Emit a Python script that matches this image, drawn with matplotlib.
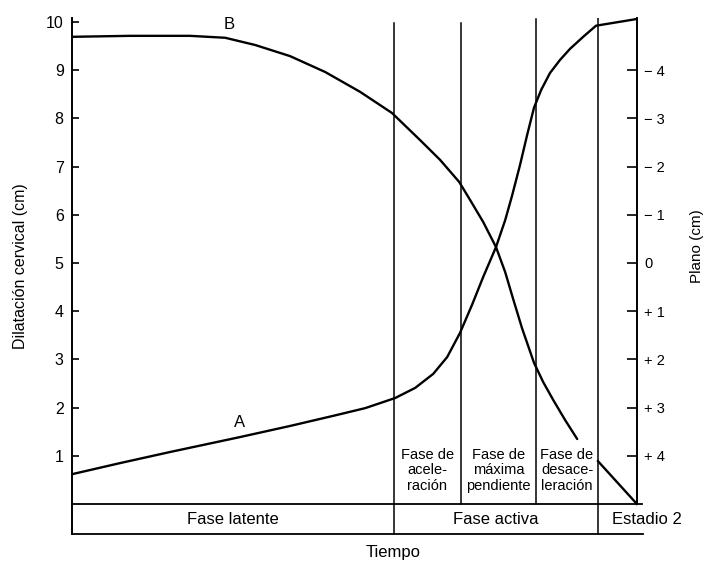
import matplotlib
matplotlib.use("Agg")
import matplotlib.pyplot as plt

plt.rcParams["font.family"] = ["Liberation Sans", "DejaVu Sans"]

# Time (h) and cervical dilatation (cm) for curve A
time_a = [0.0, 1.2, 2.45, 4.2, 5.45, 6.53, 7.33, 8.08, 8.58, 9.03, 9.38,
          9.7, 10.0, 10.28, 10.6, 10.83, 11.0, 11.2, 11.38, 11.55, 11.73,
          11.95, 12.2, 12.45, 12.78, 13.1, 14.125]
dilation_a = [0.62, 0.85, 1.08, 1.39, 1.62, 1.83, 1.99, 2.2, 2.41, 2.7, 3.05,
              3.55, 4.13, 4.71, 5.33, 5.89, 6.39, 7.03, 7.66, 8.22, 8.59,
              8.94, 9.21, 9.44, 9.69, 9.92, 10.06]

# Time (h) and fetal station (cm) for curve B, first stage
time_b = [0.0, 1.45, 2.95, 3.83, 4.58, 5.45, 6.33, 7.2, 8.0, 8.7, 9.2,
          9.68, 9.95, 10.28, 10.6, 10.83, 11.03, 11.25, 11.55, 11.78, 12.03,
          12.33, 12.63]
station_b = [-4.69, -4.71, -4.71, -4.67, -4.52, -4.29, -3.96, -3.55, -3.11,
             -2.55, -2.14, -1.68, -1.31, -0.85, -0.33, 0.19, 0.75, 1.35,
             2.07, 2.47, 2.84, 3.26, 3.65]

# Curve B during the second stage
time_b2 = [13.15, 14.125]
station_b2 = [4.11, 5.0]

# Phase boundaries (h) and end of the record
phase_edges = [8.05, 9.72, 11.6, 13.15]
phase_tops = [9.98, 9.98, 10.05, 10.12]
t_end = 14.125
band_low = -0.62
y_top = 10.08

dilation_ticks = [1, 2, 3, 4, 5, 6, 7, 8, 9, 10]
station_ticks = [-4, -3, -2, -1, 0, 1, 2, 3, 4]
station_labels = ["\u2212 4", "\u2212 3", "\u2212 2", "\u2212 1", "0",
                  "+ 1", "+ 2", "+ 3", "+ 4"]

sub_phases = ["Fase de\nacele-\nración", "Fase de\nmáxima\npendiente",
              "Fase de\ndesace-\nleración"]
main_phases = ["Fase latente", "Fase activa", "Estadio 2"]

fig = plt.figure(figsize=(7.06, 5.63), dpi=100)
ax = fig.add_axes([72 / 706, 29 / 563, 565 / 706, 516 / 563])
ax.set_xlim(0, t_end)
ax.set_ylim(band_low, y_top)

for s in ["top", "right", "bottom"]:
    ax.spines[s].set_visible(False)
ax.spines["left"].set_linewidth(1.4)
ax.set_xticks([])
ax.set_yticks(dilation_ticks)
ax.tick_params(axis="y", direction="in", length=5, width=1.2, pad=6,
               labelsize=11.5)

# Curve A: dilatation
ax.plot(time_a, dilation_a, color="black", lw=1.7, solid_capstyle="round",
        solid_joinstyle="round")
ax.text(4.2, 1.7, "A", fontsize=12, ha="center", va="center")

# Vertical phase separators
for i, (x, top) in enumerate(zip(phase_edges, phase_tops)):
    bottom = band_low if i in (0, 3) else 0
    ax.plot([x, x], [bottom, top], color="black", lw=1.1)

# Bottom band
ax.plot([0, t_end + 0.13], [0, 0], color="black", lw=1.3, clip_on=False)
ax.plot([0, t_end + 0.15], [band_low, band_low], color="black", lw=1.3,
        clip_on=False)

# Sub-phase labels
for i, label in enumerate(sub_phases):
    xc = (phase_edges[i] + phase_edges[i + 1]) / 2
    ax.text(xc, 0.7, label, fontsize=10.5, ha="center", va="center",
            linespacing=1.15)

band_mid = band_low / 2
ax.text(phase_edges[0] / 2, band_mid, main_phases[0], fontsize=12,
        ha="center", va="center")
ax.text((phase_edges[0] + phase_edges[3]) / 2, band_mid, main_phases[1],
        fontsize=12, ha="center", va="center")
ax.text(phase_edges[3] + 0.35, band_mid, main_phases[2], fontsize=12,
        ha="left", va="center", clip_on=False)

# Right axis: fetal station
ax2 = ax.twinx()
ax2.set_ylim(5 - band_low, 5 - y_top)
for s in ["top", "left", "bottom"]:
    ax2.spines[s].set_visible(False)
ax2.spines["right"].set_bounds(5 - y_top, 5)
ax2.spines["right"].set_linewidth(1.4)
ax2.set_yticks(station_ticks)
ax2.set_yticklabels(station_labels)
ax2.tick_params(axis="y", direction="in", length=7, width=1.2, pad=5,
                labelsize=10.5)

ax2.plot(time_b, station_b, color="black", lw=1.7, solid_capstyle="round",
         solid_joinstyle="round")
ax2.plot(time_b2, station_b2, color="black", lw=1.7)
ax2.text(3.93, -4.94, "B", fontsize=12, ha="center", va="center")

fig.text(21 / 706, 1 - 266 / 563, "Dilatación cervical (cm)", rotation=90,
         fontsize=11.5, ha="center", va="center")
fig.text(697 / 706, 1 - 246 / 563, "Plano (cm)", rotation=90,
         fontsize=11, ha="center", va="center")
fig.text(393 / 706, 1 - 553 / 563, "Tiempo", fontsize=12,
         ha="center", va="center")

fig.savefig("out.png", dpi=100)
